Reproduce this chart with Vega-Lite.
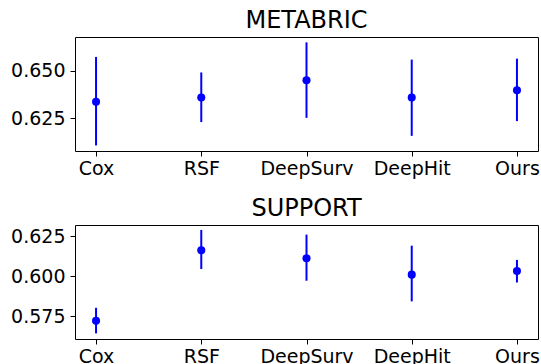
{
  "$schema": "https://vega.github.io/schema/vega-lite/v6.json",
  "padding": {"left": 10, "top": 8, "right": 2, "bottom": 0},
  "spacing": 17,
  "config": {
    "font": "DejaVu Sans",
    "view": {"stroke": "black", "strokeWidth": 1},
    "axis": {"grid": false, "domainColor": "black", "tickColor": "black", "labelColor": "black", "labelFontSize": 19, "labelFont": "DejaVu Sans", "tickSize": 5, "labelPadding": 5, "domain": false},
    "axisX": {"labelPadding": 3},
    "title": {"fontSize": 24, "fontWeight": "normal", "font": "DejaVu Sans", "color": "black", "baseline": "alphabetic", "offset": 4}
  },
  "datasets": {
    "metabric": [
      {"model": "Cox", "mean": 0.6337, "lo": 0.6109, "hi": 0.6571},
      {"model": "RSF", "mean": 0.6359, "lo": 0.6231, "hi": 0.6490},
      {"model": "DeepSurv", "mean": 0.6449, "lo": 0.6253, "hi": 0.6647},
      {"model": "DeepHit", "mean": 0.6359, "lo": 0.6159, "hi": 0.6557},
      {"model": "Ours", "mean": 0.6397, "lo": 0.6236, "hi": 0.6562}
    ],
    "support": [
      {"model": "Cox", "mean": 0.5723, "lo": 0.5644, "hi": 0.5804},
      {"model": "RSF", "mean": 0.6163, "lo": 0.6046, "hi": 0.6290},
      {"model": "DeepSurv", "mean": 0.6113, "lo": 0.5973, "hi": 0.6261},
      {"model": "DeepHit", "mean": 0.6011, "lo": 0.5844, "hi": 0.6192},
      {"model": "Ours", "mean": 0.6034, "lo": 0.5962, "hi": 0.6103}
    ]
  },
  "vconcat": [
    {
      "title": "METABRIC",
      "width": 463,
      "height": 114,
      "data": {"name": "metabric"},
      "encoding": {
        "x": {"field": "model", "type": "nominal", "sort": null, "scale": {"type": "point", "padding": 0.2}, "axis": {"title": null, "labelAngle": 0}}
      },
      "layer": [
        {
          "mark": {"type": "rule", "color": "#0000ff", "strokeWidth": 2},
          "encoding": {
            "y": {"field": "lo", "type": "quantitative", "scale": {"domain": [0.608, 0.6675], "nice": false, "zero": false}, "axis": {"title": null, "values": [0.625, 0.65], "format": ".3f"}},
            "y2": {"field": "hi"}
          }
        },
        {
          "mark": {"type": "point", "filled": true, "opacity": 1, "color": "#0000ff", "size": 65, "shape": "circle"},
          "encoding": {"y": {"field": "mean", "type": "quantitative"}}
        }
      ]
    },
    {
      "title": "SUPPORT",
      "width": 463,
      "height": 114,
      "data": {"name": "support"},
      "encoding": {
        "x": {"field": "model", "type": "nominal", "sort": null, "scale": {"type": "point", "padding": 0.2}, "axis": {"title": null, "labelAngle": 0}}
      },
      "layer": [
        {
          "mark": {"type": "rule", "color": "#0000ff", "strokeWidth": 2},
          "encoding": {
            "y": {"field": "lo", "type": "quantitative", "scale": {"domain": [0.5609, 0.6321], "nice": false, "zero": false}, "axis": {"title": null, "values": [0.575, 0.6, 0.625], "format": ".3f"}},
            "y2": {"field": "hi"}
          }
        },
        {
          "mark": {"type": "point", "filled": true, "opacity": 1, "color": "#0000ff", "size": 65, "shape": "circle"},
          "encoding": {"y": {"field": "mean", "type": "quantitative"}}
        }
      ]
    }
  ]
}
